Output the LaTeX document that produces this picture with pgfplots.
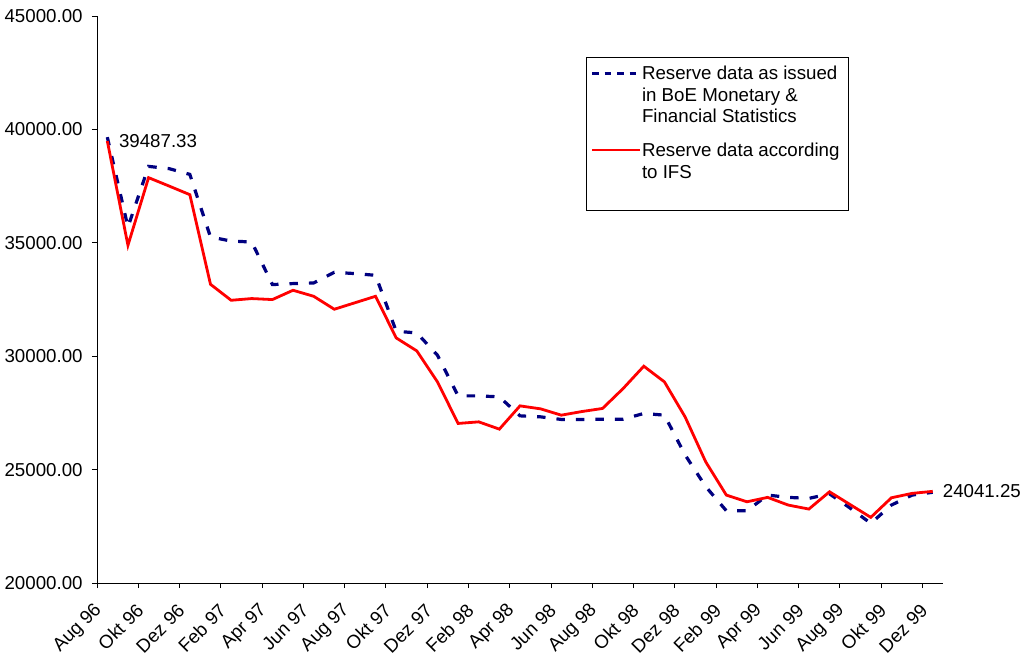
\documentclass[border=0pt]{standalone}
\usepackage{fontspec}
\setmainfont{Liberation Sans}
\usepackage{pgfplots}
\usepackage{pgfplotstable}
\pgfplotsset{compat=1.18}
\newcommand\fs{\fontsize{18.7}{21.5}\selectfont}
\definecolor{boeblue}{RGB}{0,0,128}
\definecolor{ifsred}{RGB}{255,0,0}

\pgfplotstableread{
x y
0 39660
1 35695
2 38369
3 38268
4 38016
5 35255
6 35078
7 35034
8 33158
9 33202
10 33228
11 33700
12 33642
13 33567
14 31101
15 31026
16 30043
17 28251
18 28251
19 28207
20 27370
21 27326
22 27211
23 27211
24 27224
25 27224
26 27475
27 27400
28 25650
29 24250
30 23185
31 23185
32 23876
33 23775
34 23731
35 23930
36 23304
37 22630
38 23436
39 23876
40 24000
}\boe

\pgfplotstableread{
x y
0 39487.33
1 34889
2 37872
3 37500
4 37122
5 33171
6 32466
7 32541
8 32497
9 32907
10 32642
11 32070
12 32356
13 32642
14 30806
15 30233
16 28867
17 27035
18 27105
19 26784
20 27810
21 27678
22 27400
23 27560
24 27696
25 28577
26 29559
27 28867
28 27326
29 25343
30 23876
31 23581
32 23775
33 23436
34 23260
35 24022
36 23458
37 22894
38 23758
39 23951
40 24041.25
}\ifs

\begin{document}
\fs
\begin{tikzpicture}
\useasboundingbox (0,0) rectangle (1025pt,659pt);
\begin{axis}[
  at={(97pt,76pt)}, anchor=south west,
  width=846pt, height=567pt, scale only axis,
  xmin=-0.5, xmax=40.5, ymin=20000, ymax=45000,
  clip=false,
  axis lines*=left,
  axis line style={black, line width=0.9pt},
  tick style={black, line width=0.9pt},
  tick align=outside,
  major tick length=5pt,
  font=\fs,
  tick label style={font=\fs},
  ytick={20000,25000,...,45000},
  scaled y ticks=false,
  yticklabel style={xshift=-3pt, /pgf/number format/.cd, fixed, fixed zerofill, precision=2, 1000 sep={}, assume math mode=true},
  xtick={-0.5,1.5,...,39.5},
  xticklabels={},
  extra x ticks={0,2,...,40},
  extra x tick labels={Aug 96,Okt 96,Dez 96,Feb 97,Apr 97,Jun 97,Aug 97,Okt 97,Dez 97,Feb 98,Apr 98,Jun 98,Aug 98,Okt 98,Dez 98,Feb 99,Apr 99,Jun 99,Aug 99,Okt 99,Dez 99},
  extra x tick style={major tick length=0pt, grid=none,
     xticklabel style={xshift=-4pt, yshift=-20pt, rotate=45, anchor=east}},
]
\addplot[boeblue, line width=3.2pt, dash pattern=on 8.5pt off 11pt] table[x=x,y=y] {\boe};
\addplot[ifsred, line width=2.8pt] table[x=x,y=y] {\ifs};
\node[anchor=west, inner sep=0pt, xshift=11.5pt, font=\fs] at (axis cs:0,39487.33) {39487.33};
\node[anchor=west, inner sep=0pt, xshift=10pt, font=\fs] at (axis cs:40,24041.25) {24041.25};
\end{axis}
% legend
\draw[black, line width=0.9pt] (586pt,449pt) rectangle (848pt,602pt);
\draw[boeblue, line width=3.2pt, dash pattern=on 6.5pt off 6pt] (592pt,585.7pt) -- (640pt,585.7pt);
\draw[ifsred, line width=2.8pt] (592pt,509pt) -- (640pt,509pt);
\node[anchor=base west, inner sep=0pt] at (641.8pt,579.4pt) {Reserve data as issued};
\node[anchor=base west, inner sep=0pt] at (641.8pt,557.9pt) {in BoE Monetary \&};
\node[anchor=base west, inner sep=0pt] at (641.8pt,536.4pt) {Financial Statistics};
\node[anchor=base west, inner sep=0pt] at (641.8pt,502.4pt) {Reserve data according};
\node[anchor=base west, inner sep=0pt] at (641.8pt,480.9pt) {to IFS};
\end{tikzpicture}
\end{document}
